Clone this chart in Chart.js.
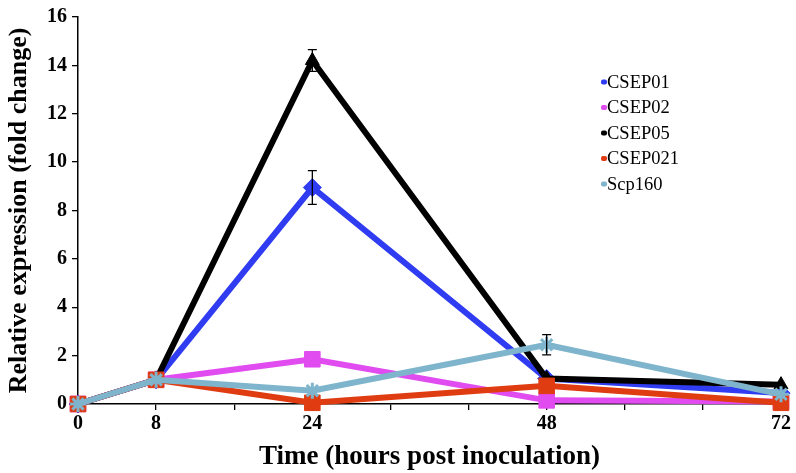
<!DOCTYPE html>
<html>
<head>
<meta charset="utf-8">
<script src="https://cdn.jsdelivr.net/npm/chart.js@4.4.1/dist/chart.umd.min.js"></script>
<style>
  html, body { margin: 0; padding: 0; background: #fff; }
  #wrap { width: 796px; height: 473px; position: relative; }
</style>
</head>
<body>
<div id="wrap"><canvas id="c" width="796" height="473"></canvas></div>
<script>
// ---- data ----
const hours = [0, 8, 24, 48, 72];
const xTickLabels = [0, 8, 24, 48, 72];
const seriesNames = ['CSEP01', 'CSEP02', 'CSEP05', 'CSEP021', 'Scp160'];
const csep01 = [0, 1, 8.95, 1.05, 0.45];
const csep02 = [0, 1, 1.85, 0.15, 0.1];
const csep05 = [0, 1, 14.2, 1.05, 0.8];
const csep021 = [0, 1, 0.05, 0.75, 0.05];
const scp160 = [0, 1, 0.55, 2.45, 0.4];
// error bar half-widths (0 = no bar shown)
const csep01Err = [0, 0, 0.7, 0, 0];
const csep02Err = [0, 0, 0, 0, 0];
const csep05Err = [0, 0, 0.45, 0, 0];
const csep021Err = [0, 0, 0, 0, 0];
const scp160Err = [0, 0, 0, 0.42, 0];

const colors = ['#2f3cf2', '#e04cf0', '#000000', '#e03c12', '#7fb5cc'];
const styles = ['rectRot', 'rect', 'triangle', 'rect', 'star'];
const radii = [9, 11, 8, 11, 8];
const values = [csep01, csep02, csep05, csep021, scp160];
const errs = [csep01Err, csep02Err, csep05Err, csep021Err, scp160Err];
const orders = [5, 4, 3, 2, 1];
const serif = '"Liberation Serif", "Times New Roman", serif';

const datasets = seriesNames.map((name, i) => ({
  label: name,
  data: hours.map((h, j) => ({ x: h, y: values[i][j] })),
  errors: errs[i],
  borderColor: colors[i],
  backgroundColor: colors[i],
  pointBackgroundColor: colors[i],
  pointBorderColor: colors[i],
  pointBorderWidth: i === 4 ? 3 : 1,
  borderWidth: 6,
  pointStyle: styles[i],
  pointRadius: radii[i],
  tension: 0,
  clip: false,
  order: orders[i]
}));

const errorBars = {
  id: 'errorBars',
  afterDatasetsDraw(chart) {
    const ctx = chart.ctx;
    const xs = chart.scales.x, ys = chart.scales.y;
    ctx.save();
    ctx.strokeStyle = '#000';
    ctx.lineWidth = 1.3;
    chart.data.datasets.forEach(ds => {
      ds.data.forEach((p, j) => {
        const e = ds.errors[j];
        if (!e) return;
        const x = xs.getPixelForValue(p.x);
        const y1 = ys.getPixelForValue(p.y + e);
        const y2 = ys.getPixelForValue(p.y - e);
        ctx.beginPath();
        ctx.moveTo(x, y1); ctx.lineTo(x, y2);
        ctx.moveTo(x - 4.5, y1); ctx.lineTo(x + 4.5, y1);
        ctx.moveTo(x - 4.5, y2); ctx.lineTo(x + 4.5, y2);
        ctx.stroke();
      });
    });
    ctx.restore();
  }
};

const legendBox = {
  id: 'legendBox',
  afterDraw(chart) {
    const ctx = chart.ctx;
    ctx.save();
    ctx.font = '18.5px ' + serif;
    ctx.textBaseline = 'middle';
    ctx.textAlign = 'left';
    chart.data.datasets.forEach((ds, i) => {
      const y = 82 + i * 25.5;
      ctx.fillStyle = ds.borderColor;
      ctx.beginPath();
      ctx.roundRect(601, y - 2.5, 6, 5, 2);
      ctx.fill();
      ctx.fillStyle = '#000';
      ctx.fillText(ds.label, 607, y + 1);
    });
    ctx.restore();
  }
};

new Chart(document.getElementById('c'), {
  type: 'line',
  data: { datasets },
  options: {
    responsive: false,
    animation: false,
    layout: { padding: { top: 6, right: 15, left: 0, bottom: 0 } },
    plugins: { legend: { display: false }, tooltip: { enabled: false } },
    scales: {
      x: {
        type: 'linear',
        min: 0, max: 72,
        afterFit(scale) { scale.height = 69; },
        afterBuildTicks(scale) {
          const t = [];
          for (let v = 0; v <= 72; v += 8) t.push({ value: v });
          scale.ticks = t;
        },
        ticks: {
          autoSkip: false,
          maxRotation: 0,
          padding: 2,
          color: '#000',
          font: { family: serif, size: 20, weight: 'bold' },
          callback: v => xTickLabels.includes(v) ? String(v) : ''
        },
        grid: { drawOnChartArea: false, tickLength: 6, color: '#000', lineWidth: 1.3 },
        border: { color: '#000', width: 1.5 },
        title: {
          display: true,
          text: 'Time (hours post inoculation)',
          color: '#000',
          padding: { top: 0, bottom: 0 },
          font: { family: serif, size: 27, weight: 'bold' }
        }
      },
      y: {
        min: 0, max: 16,
        afterFit(scale) { scale.width = 78; },
        ticks: {
          stepSize: 2,
          padding: 5,
          color: '#000',
          font: { family: serif, size: 20, weight: 'bold' }
        },
        grid: { drawOnChartArea: false, tickLength: 6, color: '#000', lineWidth: 1.3 },
        border: { color: '#000', width: 1.5 },
        title: {
          display: true,
          text: 'Relative expression (fold change)',
          color: '#000',
          padding: { top: 4, bottom: 0 },
          font: { family: serif, size: 26, weight: 'bold' }
        }
      }
    }
  },
  plugins: [errorBars, legendBox]
});
</script>
</body>
</html>
